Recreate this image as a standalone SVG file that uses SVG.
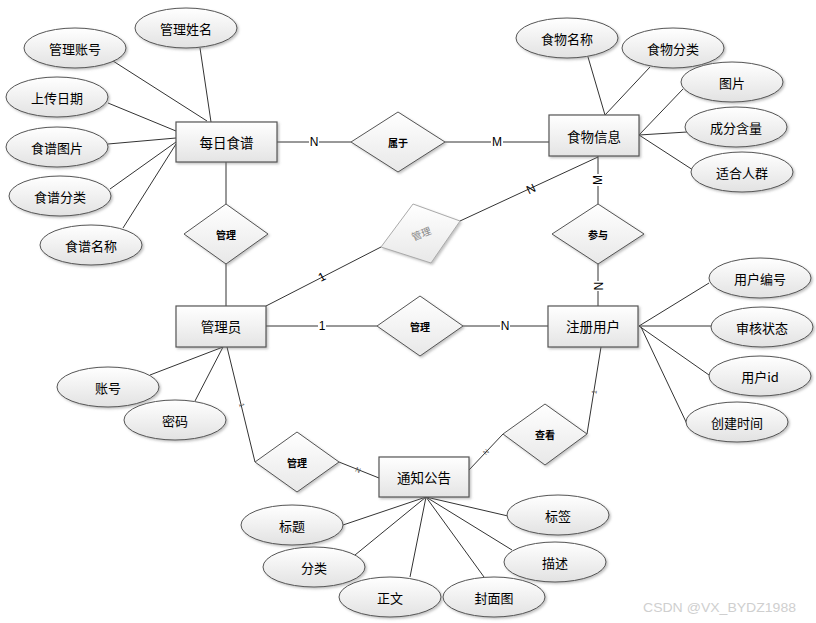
<svg xmlns="http://www.w3.org/2000/svg" width="816" height="623" viewBox="0 0 816 623">
<defs>
<linearGradient id="gRect" x1="0" y1="0" x2="0" y2="1">
<stop offset="0" stop-color="#ffffff"/><stop offset="1" stop-color="#e4e4e4"/>
</linearGradient>
<linearGradient id="gEll" x1="0" y1="0" x2="0" y2="1">
<stop offset="0" stop-color="#ffffff"/><stop offset="1" stop-color="#e2e2e2"/>
</linearGradient>
<linearGradient id="gDia" x1="0" y1="0" x2="0" y2="1">
<stop offset="0" stop-color="#ffffff"/><stop offset="1" stop-color="#e8e8e8"/>
</linearGradient>
<filter id="sh" x="-20%" y="-20%" width="140%" height="140%">
<feDropShadow dx="1.5" dy="1.5" stdDeviation="0.8" flood-color="#777" flood-opacity="0.45"/>
</filter>
</defs>
<style>
.ent{fill:url(#gRect);stroke:#555;stroke-width:1.2;filter:url(#sh)}
.att{fill:url(#gEll);stroke:#555;stroke-width:1;filter:url(#sh)}
.rel{fill:url(#gDia);stroke:#555;stroke-width:1;filter:url(#sh)}
.relg{fill:url(#gDia);stroke:#aaa;stroke-width:1;filter:url(#sh)}
.ln{stroke:#333;stroke-width:1;fill:none}
.t{font-family:"Noto Sans CJK SC","Liberation Sans",sans-serif;font-size:13px;fill:#000;text-anchor:middle;dominant-baseline:central}
.te{font-family:"Noto Sans CJK SC","Liberation Sans",sans-serif;font-size:13.5px;fill:#000;text-anchor:middle;dominant-baseline:central}
.tr{font-family:"Noto Sans CJK SC","Liberation Sans",sans-serif;font-size:10px;font-weight:bold;fill:#000;text-anchor:middle;dominant-baseline:central}
.trg{font-family:"Noto Sans CJK SC","Liberation Sans",sans-serif;font-size:10px;fill:#888;text-anchor:middle;dominant-baseline:central}
.lb{font-family:"Liberation Sans",Arial,sans-serif;font-size:12px;fill:#000;text-anchor:middle;dominant-baseline:central}
.lbs{font-family:"Liberation Sans",Arial,sans-serif;font-size:7px;fill:#555;text-anchor:middle;dominant-baseline:central}
.bg{fill:#fff}
</style>
<rect width="816" height="623" fill="#fff"/>
<g id="connectors">
<!-- attribute lines -->
<line class="ln" x1="200" y1="48" x2="211" y2="122"/>
<line class="ln" x1="113" y1="61" x2="207" y2="121"/>
<line class="ln" x1="108" y1="103" x2="176" y2="131"/>
<line class="ln" x1="108" y1="144" x2="176" y2="138"/>
<line class="ln" x1="110" y1="189" x2="176" y2="142"/>
<line class="ln" x1="123" y1="228" x2="176" y2="144"/>
<line class="ln" x1="588" y1="57" x2="605" y2="115"/>
<line class="ln" x1="650" y1="67" x2="605" y2="115"/>
<line class="ln" x1="683" y1="89" x2="639" y2="135"/>
<line class="ln" x1="687" y1="132" x2="639" y2="135"/>
<line class="ln" x1="693" y1="170" x2="639" y2="135"/>
<line class="ln" x1="709" y1="283" x2="639" y2="326"/>
<line class="ln" x1="711" y1="326" x2="639" y2="326"/>
<line class="ln" x1="709" y1="375" x2="639" y2="326"/>
<line class="ln" x1="687" y1="424" x2="641" y2="327"/>
<line class="ln" x1="150" y1="375" x2="223" y2="347"/>
<line class="ln" x1="195" y1="401" x2="223" y2="347"/>
<line class="ln" x1="343" y1="525" x2="426" y2="497"/>
<line class="ln" x1="355" y1="555" x2="426" y2="497"/>
<line class="ln" x1="410" y1="577" x2="426" y2="497"/>
<line class="ln" x1="484" y1="577" x2="426" y2="497"/>
<line class="ln" x1="512" y1="550" x2="426" y2="497"/>
<line class="ln" x1="508" y1="516" x2="426" y2="497"/>
<!-- relationship lines -->
<line class="ln" x1="277" y1="142" x2="351" y2="142"/>
<line class="ln" x1="445" y1="142" x2="549" y2="142"/>
<line class="ln" x1="226" y1="162" x2="226" y2="204"/>
<line class="ln" x1="226" y1="264" x2="226" y2="306"/>
<line class="ln" x1="598" y1="156" x2="598" y2="204"/>
<line class="ln" x1="598" y1="264" x2="598" y2="306"/>
<line class="ln" x1="266" y1="326" x2="377" y2="326"/>
<line class="ln" x1="463" y1="326" x2="548" y2="326"/>
<line class="ln" x1="266" y1="306" x2="381" y2="247"/>
<line class="ln" x1="460" y1="221" x2="598" y2="157"/>
<line class="ln" x1="227" y1="347" x2="255" y2="462"/>
<line class="ln" x1="339" y1="462" x2="379" y2="478"/>
<line class="ln" x1="469" y1="470" x2="503" y2="434"/>
<line class="ln" x1="587" y1="434" x2="601" y2="347"/>
<!-- cardinality labels -->
<rect class="bg" x="309" y="135" width="10" height="14"/>
<text class="lb" x="314" y="142">N</text>
<rect class="bg" x="491" y="135" width="12" height="14"/>
<text class="lb" x="497" y="142">M</text>
<rect class="bg" x="592" y="174" width="12" height="12"/>
<text class="lb" transform="translate(598 180) rotate(-90)">M</text>
<rect class="bg" x="592" y="281" width="12" height="10"/>
<text class="lb" transform="translate(598 286) rotate(90)">N</text>
<rect class="bg" x="318" y="319" width="8" height="14"/>
<text class="lb" x="322" y="326">1</text>
<rect class="bg" x="500" y="319" width="10" height="14"/>
<text class="lb" x="505" y="326">N</text>
<text class="lb" transform="translate(322 277) rotate(-27)">1</text>
<text class="lb" transform="translate(531 189) rotate(-25)">N</text>
<text class="lbs" transform="translate(242 405) rotate(76)">1</text>
<text class="lbs" transform="translate(358 470) rotate(22)">N</text>
<text class="lbs" transform="translate(486 452) rotate(-46)">N</text>
<text class="lbs" transform="translate(594 392) rotate(-81)">1</text>
</g>
<g id="e-meiri"><rect class="ent" x="176" y="122" width="101" height="40"/><text class="te" x="226.5" y="142">每日食谱</text></g>
<g id="e-shiwu"><rect class="ent" x="549" y="115" width="90" height="41"/><text class="te" x="594" y="135.5">食物信息</text></g>
<g id="e-admin"><rect class="ent" x="176" y="306" width="90" height="41"/><text class="te" x="221" y="326">管理员</text></g>
<g id="e-user"><rect class="ent" x="548" y="306" width="90" height="41"/><text class="te" x="593" y="326">注册用户</text></g>
<g id="e-notice"><rect class="ent" x="379" y="457" width="90" height="40"/><text class="te" x="424" y="477">通知公告</text></g>
<g id="r-shuyu"><polygon class="rel" points="351,142 398,112 445,142 398,172"/><text class="tr" x="398" y="142">属于</text></g>
<g id="r-guanli1"><polygon class="rel" points="184,234 226,204 268,234 226,264"/><text class="tr" x="226" y="234">管理</text></g>
<g id="r-canyu"><polygon class="rel" points="552,234 598,204 644,234 598,264"/><text class="tr" x="598" y="234">参与</text></g>
<g id="r-guanli2"><polygon class="rel" points="377,326 420,296 463,326 420,356"/><text class="tr" x="420" y="326">管理</text></g>
<g id="r-guanli3"><polygon class="rel" points="255,462 297,432 339,462 297,492"/><text class="tr" x="297" y="462">管理</text></g>
<g id="r-chakan"><polygon class="rel" points="503,434 545,404 587,434 545,465"/><text class="tr" x="545" y="434">查看</text></g>
<g id="r-guanli4"><polygon class="relg" points="413,204 460,221 431,263 381,247"/><text class="trg" transform="translate(421 233) rotate(-22)">管理</text></g>
<g id="a-glxm"><ellipse class="att" cx="186" cy="28" rx="51" ry="20"/><text class="t" x="186" y="28">管理姓名</text></g>
<g id="a-glzh"><ellipse class="att" cx="75" cy="48" rx="51" ry="20"/><text class="t" x="75" y="48">管理账号</text></g>
<g id="a-scrq"><ellipse class="att" cx="57" cy="97" rx="51" ry="20"/><text class="t" x="57" y="97">上传日期</text></g>
<g id="a-sptp"><ellipse class="att" cx="57" cy="147" rx="51" ry="20"/><text class="t" x="57" y="147">食谱图片</text></g>
<g id="a-spfl"><ellipse class="att" cx="60" cy="196" rx="51" ry="20"/><text class="t" x="60" y="196">食谱分类</text></g>
<g id="a-spmc"><ellipse class="att" cx="91" cy="245" rx="51" ry="20"/><text class="t" x="91" y="245">食谱名称</text></g>
<g id="a-swmc"><ellipse class="att" cx="567" cy="38" rx="51" ry="20"/><text class="t" x="567" y="38">食物名称</text></g>
<g id="a-swfl"><ellipse class="att" cx="673" cy="48" rx="51" ry="20"/><text class="t" x="673" y="48">食物分类</text></g>
<g id="a-tp"><ellipse class="att" cx="732" cy="82" rx="51" ry="20"/><text class="t" x="732" y="82">图片</text></g>
<g id="a-cfhl"><ellipse class="att" cx="736" cy="127" rx="51" ry="20"/><text class="t" x="736" y="127">成分含量</text></g>
<g id="a-shrq"><ellipse class="att" cx="742" cy="172" rx="51" ry="20"/><text class="t" x="742" y="172">适合人群</text></g>
<g id="a-yhbh"><ellipse class="att" cx="760" cy="278" rx="51" ry="20"/><text class="t" x="760" y="278">用户编号</text></g>
<g id="a-shzt"><ellipse class="att" cx="762" cy="327" rx="51" ry="20"/><text class="t" x="762" y="327">审核状态</text></g>
<g id="a-yhid"><ellipse class="att" cx="760" cy="376" rx="51" ry="20"/><text class="t" x="760" y="376">用户id</text></g>
<g id="a-cjsj"><ellipse class="att" cx="737" cy="422" rx="51" ry="20"/><text class="t" x="737" y="422">创建时间</text></g>
<g id="a-zh"><ellipse class="att" cx="108" cy="387" rx="51" ry="20"/><text class="t" x="108" y="387">账号</text></g>
<g id="a-mm"><ellipse class="att" cx="175" cy="420" rx="51" ry="20"/><text class="t" x="175" y="420">密码</text></g>
<g id="a-bt"><ellipse class="att" cx="292" cy="525" rx="51" ry="20"/><text class="t" x="292" y="525">标题</text></g>
<g id="a-fl"><ellipse class="att" cx="314" cy="567" rx="51" ry="20"/><text class="t" x="314" y="567">分类</text></g>
<g id="a-zw"><ellipse class="att" cx="390" cy="597" rx="51" ry="20"/><text class="t" x="390" y="597">正文</text></g>
<g id="a-fmt"><ellipse class="att" cx="494" cy="597" rx="51" ry="20"/><text class="t" x="494" y="597">封面图</text></g>
<g id="a-ms"><ellipse class="att" cx="555" cy="562" rx="51" ry="20"/><text class="t" x="555" y="562">描述</text></g>
<g id="a-bq"><ellipse class="att" cx="558" cy="515" rx="51" ry="20"/><text class="t" x="558" y="515">标签</text></g>
<text x="643" y="612" font-family="Liberation Sans, Arial, sans-serif" font-size="13" fill="#cfcfcf" textLength="153" lengthAdjust="spacingAndGlyphs">CSDN @VX_BYDZ1988</text>
</svg>
